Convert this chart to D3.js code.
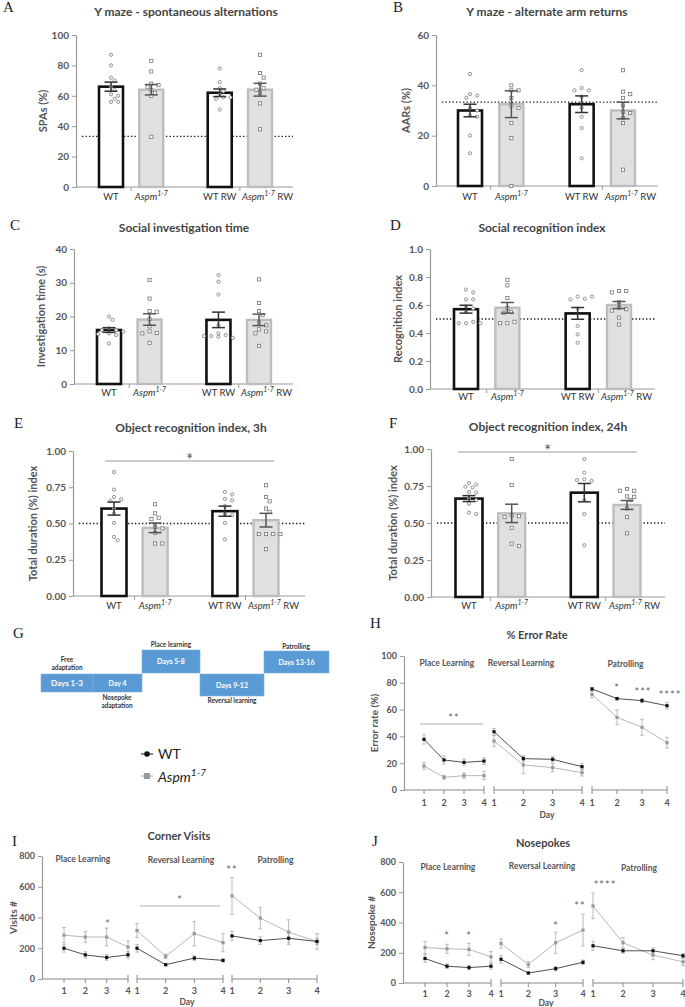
<!DOCTYPE html>
<html><head><meta charset="utf-8">
<script src="https://cdn.jsdelivr.net/npm/d3@7"></script>
<style>body{margin:0;background:#fff}svg{display:block}text{font-family:Lato,"Open Sans",sans-serif}</style>
</head><body><svg id="c" width="685" height="1007"></svg>
<script>
// ---------- DATA ----------
const groups = ["WT", "Aspm1-7", "WT RW", "Aspm1-7 RW"];

const A_mean = [66, 64, 62, 64];
const A_sem = [3, 3.4, 2.5, 4.2];
const A_pts = [[87,80,72,70,66,64,61,60,58,56,56],[83,76,68,67,66,64,62,60,33],[78,69,65,63,61,59,58,59,51],[87,75,72,68,65,64,62,55,38]];
const A_ticks = [0,20,40,60,80,100];

const B_mean = [30, 32.5, 32.5, 30];
const B_sem = [2.5, 5.3, 3.3, 3.3];
const B_pts = [[44.5,36.5,36,35,31,30,28,27.5,20,13],[40,38,38,35,32,31,25,19,0],[46,39,38,38,35.5,31,27.5,23,11],[46,37.5,36.5,35,32,29.5,29,27,25,6.5]];
const B_ticks = [0,20,40,60];

const C_mean = [16, 19.1, 19, 19];
const C_sem = [0.7, 1.7, 2.3, 1.7];
const C_pts = [[20,19,16.5,16,16,15.5,15,14.8,14.5,12],[30.8,25.3,21.6,21.4,19.2,17.1,15.6,15.1,15,12.2],[32.3,30.3,26.5,17.4,15,14.5,14.2,13.7,14.2,14],[31,24,21.6,20.4,18.2,17.4,16.2,15.6,15,11.3]];
const C_ticks = [0,10,20,30,40];

const D_mean = [0.57, 0.58, 0.54, 0.60];
const D_sem = [0.028, 0.038, 0.042, 0.025];
const D_pts = [[0.71,0.69,0.64,0.64,0.59,0.575,0.55,0.47,0.48,0.47,0.47],[0.78,0.74,0.65,0.58,0.55,0.545,0.47,0.48,0.47],[0.66,0.645,0.64,0.66,0.575,0.45,0.39,0.33],[0.70,0.70,0.69,0.62,0.58,0.57,0.56,0.51,0.46]];
const D_ticks = [0,0.2,0.4,0.6,0.8,1.0];

const E_mean = [0.603, 0.47, 0.585, 0.523];
const E_sem = [0.045, 0.033, 0.035, 0.047];
const E_pts = [[0.855,0.734,0.683,0.667,0.656,0.603,0.57,0.504,0.408,0.385],[0.633,0.57,0.54,0.53,0.477,0.466,0.436,0.362,0.362],[0.718,0.70,0.67,0.66,0.62,0.565,0.557,0.504,0.39],[0.764,0.683,0.653,0.603,0.58,0.427,0.427,0.427,0.427,0.323]];
const EF_ticks = [0,0.25,0.5,0.75,1.0];

const F_mean = [0.665, 0.565, 0.705, 0.622];
const F_sem = [0.02, 0.062, 0.062, 0.03];
const F_pts = [[0.77,0.76,0.74,0.745,0.71,0.706,0.666,0.655,0.63,0.57,0.56],[0.932,0.756,0.553,0.546,0.54,0.467,0.36,0.345],[0.932,0.84,0.795,0.785,0.79,0.655,0.56,0.35],[0.73,0.718,0.718,0.68,0.677,0.655,0.598,0.54,0.43]];

const days = [1,2,3,4];
const phases = ["Place Learning", "Reversal Learning", "Patrolling"];

const H_wt = [[37.8,22.4,20.6,21.6],[43.5,23.4,22.9,17.4],[75.4,68.2,66.7,62.9]];
const H_wt_sem = [[3.5,3,2.5,2.5],[2.5,2,2,2.5],[1,1,1.5,2.5]];
const H_asp = [[17.9,9.5,10.7,10.7],[36.6,18.7,16.7,12.9],[71.4,54.2,46.8,35.3]];
const H_asp_sem = [[2.5,1.5,2,3],[4,6.5,3,2.5],[2.5,5.5,6,4]];
const H_ticks = [0,20,40,60,80,100];

const I_wt = [[200,157,140,157],[200,93,136,121],[280,250,265,244]];
const I_wt_sem = [[25,20,18,22],[25,8,15,10],[30,25,30,20]];
const I_asp = [[285,273,273,208],[315,147,295,237],[541,396,305,244]];
const I_asp_sem = [[50,35,58,40],[45,15,80,60],[120,70,80,50]];
const IJ_ticks = [0,200,400,600,800];

const J_wt = [[162,111,102,111],[157,66,95,137],[246,213,213,180]];
const J_wt_sem = [[25,15,15,20],[25,8,15,15],[30,15,20,15]];
const J_asp = [[235,226,222,173],[261,122,266,350],[510,266,184,140]];
const J_asp_sem = [[40,30,40,35],[30,20,70,105],[85,35,30,25]];

const schedule = ["Days 1-3", "Day 4", "Days 5-8", "Days 9-12", "Days 13-16"];

// ---------- DRAW ----------
const svg = d3.select("#c");
const GRAY_TXT = "#555";

function letter(t, x, y) {
  svg.append("text").attr("x", x).attr("y", y).text(t)
    .style("font-family", "'Liberation Serif',serif").style("font-size", "15px").attr("fill", "#222");
}
function title(t, x, y, fs) {
  svg.append("text").attr("x", x).attr("y", y).attr("text-anchor", "middle").text(t)
    .style("font-size", (fs || 12) + "px").style("font-weight", "bold").attr("fill", "#444");
}
function styleAxis(sel) {
  sel.select(".domain").attr("stroke", "#999").attr("stroke-width", 1.2);
  sel.selectAll(".tick line").attr("stroke", "#999").attr("stroke-width", 1);
  sel.selectAll(".tick text").attr("fill", GRAY_TXT).style("font-size", "10px").style("font-weight", "bold")
    .style("font-family", "Lato,sans-serif");
}
function catLabel(g, i, cx, y) {
  const name = groups[i];
  const rw = name.startsWith("Aspm") && name.endsWith("RW");
  const t = g.append("text").attr("x", rw ? cx - 18 : cx).attr("y", y).attr("text-anchor", rw ? "start" : "middle")
    .attr("fill", "#333").style("font-size", "9.5px");
  if (name.startsWith("Aspm")) {
    t.append("tspan").text("Aspm").style("font-style", "italic");
    t.append("tspan").text("1-7").attr("dy", -4).style("font-size", "7px").style("font-style", "italic");
    if (rw) t.append("tspan").text(" RW").attr("dy", 4);
  } else t.text(name);
}
function spread(vals, y, cx, r, gap) {
  const placed = [];
  return vals.map(v => {
    const py = y(v);
    let px = cx;
    for (const k of [0,1,-1,2,-2,3,-3,4,-4,5,-5]) {
      const cand = cx + k * gap;
      if (placed.every(p => Math.hypot(p[0] - cand, p[1] - py) >= 2 * r + 1.2)) { px = cand; break; }
    }
    placed.push([px, py]);
    return [px, py];
  });
}

function barPanel(o) {
  const g = svg.append("g");
  const y = d3.scaleLinear().domain([0, o.max]).range([o.y0, o.y1]);
  const slots = [0, 1, 2.7, 3.7];
  const x = d3.scaleLinear().domain([0, 3.7]).range([o.c0, o.c1]);
  const ax = g.append("g").attr("transform", `translate(${o.ax},0)`)
    .call(d3.axisLeft(y).tickValues(o.ticks).tickFormat(o.fmt).tickSize(4).tickSizeOuter(0));
  styleAxis(ax);
  g.append("line").attr("x1", o.ax).attr("x2", o.xEnd).attr("y1", o.y0).attr("y2", o.y0).attr("stroke", "#999").attr("stroke-width", 1.2);
  [(x(slots[0]) + x(slots[1])) / 2, (x(slots[2]) + x(slots[3])) / 2].forEach(sx => {
    g.append("line").attr("x1", sx).attr("x2", sx).attr("y1", o.y0).attr("y2", o.y0 + 4).attr("stroke", "#999");
  });
  g.append("text").attr("transform", `translate(${o.lx},${(o.y0 + o.y1) / 2}) rotate(-90)`)
    .attr("text-anchor", "middle").text(o.ylabel).attr("fill", GRAY_TXT)
    .style("font-size", "11px").style("font-weight", "bold");
  if (o.chance != null) {
    g.append("line").attr("x1", o.ax + 6).attr("x2", o.xEnd).attr("y1", y(o.chance)).attr("y2", y(o.chance))
      .attr("stroke", "#111").attr("stroke-width", 1.3).attr("stroke-dasharray", "1.3,2.2");
  }
  const bw = o.bw || 24;
  o.mean.forEach((m, i) => {
    const cx = x(slots[i]);
    const wt = i % 2 === 0;
    g.append("rect").attr("x", cx - bw / 2).attr("y", y(m)).attr("width", bw).attr("height", o.y0 - y(m))
      .attr("fill", wt ? "#fff" : "#e0e0e0").attr("stroke", wt ? "#111" : "#bdbdbd").attr("stroke-width", wt ? 2.6 : 2.4);
    catLabel(g, i, cx, o.labY);
  });
  o.pts.forEach((arr, i) => {
    const cx = x(slots[i]);
    const wt = i % 2 === 0;
    const pos = spread(arr, y, cx, 1.7, 3.6);
    pos.forEach(p => {
      if (wt) g.append("circle").attr("cx", p[0]).attr("cy", p[1]).attr("r", 1.6)
        .attr("fill", "#fff").attr("stroke", "#777").attr("stroke-width", 0.8);
      else g.append("rect").attr("x", p[0] - 1.6).attr("y", p[1] - 1.6).attr("width", 3.2).attr("height", 3.2)
        .attr("fill", "#fff").attr("stroke", "#777").attr("stroke-width", 0.8);
    });
  });
  o.mean.forEach((m, i) => {
    const cx = x(slots[i]);
    const col = i % 2 === 0 ? "#333" : "#555";
    const lo = y(m - o.sem[i]), hi = y(m + o.sem[i]);
    g.append("line").attr("x1", cx).attr("x2", cx).attr("y1", lo).attr("y2", hi).attr("stroke", col).attr("stroke-width", 1.5);
    [lo, hi].forEach(yy => g.append("line").attr("x1", cx - 6.5).attr("x2", cx + 6.5).attr("y1", yy).attr("y2", yy)
      .attr("stroke", col).attr("stroke-width", 1.5));
  });
  if (o.sig) {
    g.append("line").attr("x1", o.sig[0]).attr("x2", o.sig[1]).attr("y1", o.sig[2]).attr("y2", o.sig[2]).attr("stroke", "#999").attr("stroke-width", 1);
    g.append("text").attr("x", (o.sig[0] + o.sig[1]) / 2).attr("y", o.sig[2] + 5).attr("text-anchor", "middle")
      .text("*").attr("fill", "#555").style("font-size", "17px");
  }
}

letter("A", 3, 12); title("Y maze - spontaneous alternations", 186, 16);
barPanel({ax: 76, y0: 187, y1: 35, max: 100, ticks: A_ticks, fmt: d3.format("d"), c0: 111, c1: 260, xEnd: 293,
  mean: A_mean, sem: A_sem, pts: A_pts, chance: 33.3, ylabel: "SPAs (%)", lx: 47, labY: 200});

letter("B", 393, 12); title("Y maze - alternate arm returns", 547, 16);
barPanel({ax: 436, y0: 186, y1: 35, max: 60, ticks: B_ticks, fmt: d3.format("d"), c0: 470, c1: 623, xEnd: 658,
  mean: B_mean, sem: B_sem, pts: B_pts, chance: 33.3, ylabel: "AARs (%)", lx: 410, labY: 200});

letter("C", 10, 230); title("Social investigation time", 184, 232);
barPanel({ax: 74, y0: 384, y1: 249, max: 40, ticks: C_ticks, fmt: d3.format("d"), c0: 109, c1: 259, xEnd: 293,
  mean: C_mean, sem: C_sem, pts: C_pts, chance: null, ylabel: "Investigation time (s)", lx: 45, labY: 396});

letter("D", 390, 230); title("Social recognition index", 542, 232);
barPanel({ax: 430, y0: 389, y1: 249, max: 1.0, ticks: D_ticks, fmt: d3.format(".1f"), c0: 466, c1: 619, xEnd: 655,
  mean: D_mean, sem: D_sem, pts: D_pts, chance: 0.5, ylabel: "Recognition index", lx: 402, labY: 400});

letter("E", 14, 428); title("Object recognition index, 3h", 191, 432);
barPanel({ax: 73, y0: 596, y1: 451, max: 1.0, ticks: EF_ticks, fmt: d3.format(".2f"), c0: 114, c1: 266, xEnd: 305,
  mean: E_mean, sem: E_sem, pts: E_pts, chance: 0.5, ylabel: "Total duration (%) index", lx: 37, labY: 609, bw: 25,
  sig: [105, 274, 461]});

letter("F", 389, 428); title("Object recognition index, 24h", 548, 431);
barPanel({ax: 431, y0: 597, y1: 449, max: 1.0, ticks: EF_ticks, fmt: d3.format(".2f"), c0: 469, c1: 627, xEnd: 665,
  mean: F_mean, sem: F_sem, pts: F_pts, chance: 0.5, ylabel: "Total duration (%) index", lx: 397, labY: 609, bw: 27,
  sig: [458, 637, 452]});

// ---------- G: schedule ----------
letter("G", 13, 638);
const boxes = [[41, 674, 52, 18], [93, 674, 49, 18], [142, 650, 58, 23], [200, 674, 64, 22], [264, 651, 65, 22]];
schedule.forEach((s, i) => {
  const b = boxes[i];
  svg.append("rect").attr("x", b[0]).attr("y", b[1]).attr("width", b[2]).attr("height", b[3])
    .attr("fill", "#5b9bd5").attr("stroke", "#7fb0de").attr("stroke-width", 0.6);
  svg.append("text").attr("x", b[0] + b[2] / 2).attr("y", b[1] + b[3] / 2 + 2.5).attr("text-anchor", "middle")
    .text(s).attr("fill", "#fff").style("font-size", i === 0 ? "8px" : "7px").style("font-weight", "bold");
});
const gLabels = [["Free", 67, 662], ["adaptation", 67, 670], ["Place learning", 171, 647], ["Nosepoke", 117, 700],
  ["adaptation", 117, 708], ["Reversal learning", 232, 703], ["Patrolling", 296, 649]];
gLabels.forEach(l => svg.append("text").attr("x", l[1]).attr("y", l[2]).attr("text-anchor", "middle").text(l[0])
  .attr("fill", "#333").style("font-size", "6.5px").style("font-weight", "bold"));

// legend
svg.append("line").attr("x1", 141).attr("x2", 153).attr("y1", 754).attr("y2", 754).attr("stroke", "#111").attr("stroke-width", 1);
svg.append("circle").attr("cx", 147).attr("cy", 754).attr("r", 2.8).attr("fill", "#111");
svg.append("text").attr("x", 158).attr("y", 759).text("WT").attr("fill", "#222").style("font-size", "14px");
svg.append("line").attr("x1", 141).attr("x2", 153).attr("y1", 776).attr("y2", 776).attr("stroke", "#aaa").attr("stroke-width", 1);
svg.append("rect").attr("x", 144).attr("y", 773).attr("width", 6).attr("height", 6).attr("fill", "#999");
const lt = svg.append("text").attr("x", 158).attr("y", 782).attr("fill", "#222").style("font-size", "14px").style("font-style", "italic");
lt.append("tspan").text("Aspm");
lt.append("tspan").text("1-7").attr("dy", -6).style("font-size", "10px");

// ---------- line panels ----------
function linePanel(o) {
  const g = svg.append("g");
  const y = d3.scaleLinear().domain([0, o.max]).range([o.y0, o.y1]);
  const ax = g.append("g").attr("transform", `translate(${o.ax},0)`)
    .call(d3.axisLeft(y).tickValues(o.ticks).tickFormat(d3.format("d")).tickSize(4).tickSizeOuter(0));
  styleAxis(ax);
  ax.selectAll(".tick text").style("font-size", "9px");
  g.append("text").attr("transform", `translate(${o.lx},${(o.y0 + o.y1) / 2}) rotate(-90)`)
    .attr("text-anchor", "middle").text(o.ylabel).attr("fill", GRAY_TXT)
    .style("font-size", "10px").style("font-weight", "bold");
  o.segs.forEach((s, si) => {
    const x = d3.scaleLinear().domain([1, 4]).range(s);
    const start = si === 0 ? o.ax : s[0];
    g.append("line").attr("x1", start).attr("x2", s[1]).attr("y1", o.y0).attr("y2", o.y0).attr("stroke", "#888").attr("stroke-width", 1.2);
    days.forEach(d => {
      const edge = (si > 0 && d === 1) || d === 4;
      g.append("line").attr("x1", x(d)).attr("x2", x(d)).attr("y1", o.y0 - (edge ? 4 : 0)).attr("y2", o.y0 + 4)
        .attr("stroke", "#888").attr("stroke-width", 1);
      g.append("text").attr("x", x(d)).attr("y", o.tickY).attr("text-anchor", "middle").text(d)
        .attr("fill", GRAY_TXT).style("font-size", "9px").style("font-weight", "bold");
    });
    g.append("text").attr("x", (s[0] + s[1]) / 2 + (o.phaseDx ? o.phaseDx[si] : 0)).attr("y", o.phaseY[si]).attr("text-anchor", "middle")
      .text(phases[si]).attr("fill", GRAY_TXT).style("font-size", "8.5px").style("font-weight", "bold");
    const series = [[o.asp[si], o.aspSem[si], "#a6a6a6", "#999"], [o.wt[si], o.wtSem[si], "#222", "#111"]];
    series.forEach(([vals, sems, lc, mc]) => {
      vals.forEach((v, k) => {
        g.append("line").attr("x1", x(days[k])).attr("x2", x(days[k])).attr("y1", y(v - sems[k])).attr("y2", y(v + sems[k]))
          .attr("stroke", "#aaa").attr("stroke-width", 0.8);
        [v - sems[k], v + sems[k]].forEach(e => g.append("line").attr("x1", x(days[k]) - 1.8).attr("x2", x(days[k]) + 1.8)
          .attr("y1", y(e)).attr("y2", y(e)).attr("stroke", "#aaa").attr("stroke-width", 0.8));
      });
      g.append("path").attr("d", d3.line().x((v, k) => x(days[k])).y(v => y(v))(vals))
        .attr("fill", "none").attr("stroke", lc).attr("stroke-width", 0.8);
      vals.forEach((v, k) => g.append("rect").attr("x", x(days[k]) - 1.6).attr("y", y(v) - 1.6).attr("width", 3.2).attr("height", 3.2).attr("fill", mc));
    });
  });
  g.append("text").attr("x", o.dayX).attr("y", o.dayY).attr("text-anchor", "middle").text("Day")
    .attr("fill", GRAY_TXT).style("font-size", "8.5px").style("font-weight", "bold");
  (o.stars || []).forEach(s => g.append("text").attr("x", s[0]).attr("y", s[1]).attr("text-anchor", "middle").text(s[2])
    .attr("fill", "#666").style("font-size", "11px").style("letter-spacing", "1px"));
  (o.lines || []).forEach(l => g.append("line").attr("x1", l[0]).attr("x2", l[1]).attr("y1", l[2]).attr("y2", l[2])
    .attr("stroke", l[3]).attr("stroke-width", l[4]));
}

letter("H", 370, 628); title("% Error Rate", 537, 639, 11);
linePanel({ax: 404, y0: 790, y1: 656, max: 100, ticks: H_ticks, ylabel: "Error rate (%)", lx: 378,
  segs: [[424, 484], [494, 582], [592, 667]], tickY: 806, dayX: 547, dayY: 818, phaseY: [666, 666, 667], phaseDx: [-7, -17, -4],
  wt: H_wt, wtSem: H_wt_sem, asp: H_asp, aspSem: H_asp_sem,
  stars: [[454, 722, "**"], [617, 692, "*"], [643, 696, "***"], [670, 699, "****"]],
  lines: [[420, 483, 724, "#999", 0.8]]});

letter("I", 12, 846); title("Corner Visits", 179, 840, 11);
linePanel({ax: 42, y0: 979, y1: 856, max: 800, ticks: IJ_ticks, ylabel: "Visits #", lx: 17,
  segs: [[64, 128], [137, 223], [232, 317]], tickY: 994, dayX: 187, dayY: 1005, phaseY: [862, 863, 863], phaseDx: [-13, 1, 1],
  wt: I_wt, wtSem: I_wt_sem, asp: I_asp, aspSem: I_asp_sem,
  stars: [[108, 928, "*"], [180, 904, "*"], [232, 874, "**"]],
  lines: [[140, 220, 906, "#c8c8c8", 1.6]]});

letter("J", 372, 846); title("Nosepokes", 543, 847, 11);
linePanel({ax: 403, y0: 983, y1: 862, max: 800, ticks: IJ_ticks, ylabel: "Nosepoke #", lx: 375,
  segs: [[425, 491], [501, 583], [593, 683]], tickY: 997, dayX: 546, dayY: 1006, phaseY: [870, 869, 871], phaseDx: [-10, 0, 1],
  wt: J_wt, wtSem: J_wt_sem, asp: J_asp, aspSem: J_asp_sem,
  stars: [[447, 940, "*"], [469, 940, "*"], [556, 930, "*"], [580, 910, "**"], [605, 889, "****"]]});
</script></body></html>
